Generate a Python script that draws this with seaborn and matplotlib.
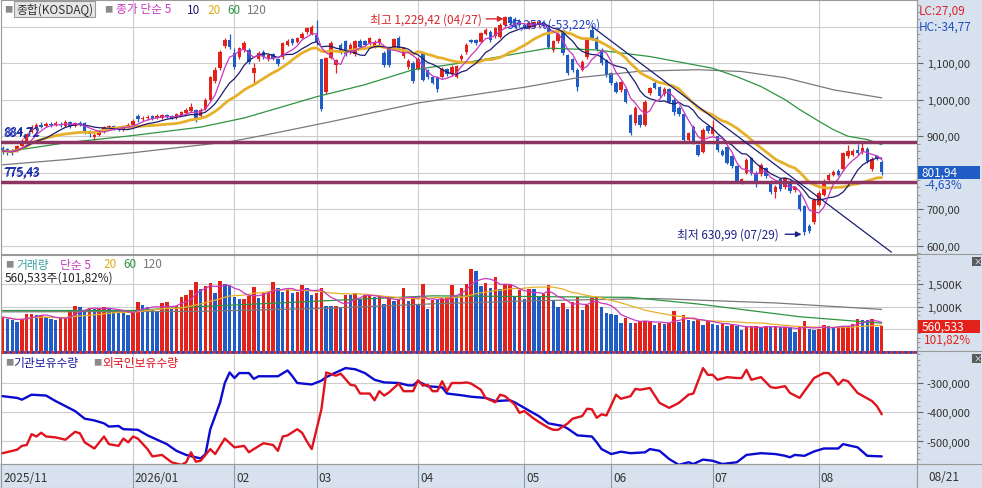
import numpy as np
import pandas as pd
import matplotlib
matplotlib.use("Agg")
import matplotlib.pyplot as plt
import seaborn as sns
from matplotlib.patches import Rectangle
from matplotlib.lines import Line2D
from matplotlib.ticker import FuncFormatter, MultipleLocator
from matplotlib.transforms import blended_transform_factory

# ---- daily candles (KOSDAQ), index 0 = first visible day ----
opens = [868, 865, 862, 860, 873, 885, 912, 922, 932, 928,
         933, 930, 934, 929, 938, 928, 936, 935, 913, 898,
         904, 914, 924, 928, 921, 918, 926, 930, 955, 947,
         949, 955, 949, 951, 958, 955, 952, 959, 964, 970,
         972, 955, 975, 1000, 1050, 1087, 1148, 1163, 1127, 1118,
         1135, 1136, 1073, 1110, 1130, 1110, 1125, 1110, 1117, 1150,
         1165, 1158, 1170, 1185, 1180, 1178, 1110, 1022, 1114, 1095,
         1150, 1160, 1130, 1125, 1160, 1160, 1155, 1145, 1155, 1128,
         1142, 1140, 1168, 1120, 1090, 1100, 1085, 1127, 1080, 1062,
         1062, 1062, 1083, 1070, 1062, 1110, 1130, 1162, 1163, 1158,
         1180, 1185, 1175, 1172, 1204, 1226, 1222, 1215, 1205, 1197,
         1200, 1205, 1212, 1200, 1135, 1160, 1190, 1122, 1110, 1082,
         1082, 1117, 1190, 1170, 1136, 1108, 1073, 1046, 1027, 1030,
         958, 937, 958, 932, 1018, 1045, 1035, 1015, 1028, 1000,
         978, 960, 890, 925, 877, 858, 928, 905, 900, 860,
         870, 845, 818, 775, 800, 840, 800, 797, 813, 777,
         747, 783, 760, 775, 752, 740, 708, 655, 665, 712,
         740, 780, 793, 805, 810, 845, 850, 862, 857, 866,
         810, 845, 830]
closes = [860, 857, 856, 872, 888, 905, 925, 930, 926, 934,
          930, 936, 930, 938, 928, 935, 932, 912, 905, 903,
          915, 925, 928, 920, 918, 928, 931, 942, 946, 950,
          954, 948, 955, 958, 953, 950, 960, 965, 972, 980,
          950, 972, 1000, 1063, 1082, 1130, 1163, 1145, 1090, 1140,
          1155, 1104, 1087, 1127, 1117, 1122, 1113, 1098, 1155, 1160,
          1155, 1168, 1180, 1196, 1200, 1158, 975, 1114, 1155, 1108,
          1130, 1125, 1150, 1160, 1145, 1150, 1168, 1158, 1165, 1095,
          1095, 1165, 1140, 1140, 1105, 1050, 1112, 1054, 1062, 1046,
          1030, 1085, 1070, 1090, 1092, 1120, 1150, 1158, 1155, 1182,
          1190, 1162, 1195, 1205, 1225, 1210, 1200, 1205, 1198, 1210,
          1212, 1213, 1202, 1145, 1160, 1180, 1127, 1073, 1080, 1036,
          1103, 1163, 1168, 1138, 1100, 1068, 1046, 1022, 1048, 995,
          910, 978, 932, 995, 1032, 1033, 1010, 1030, 995, 965,
          960, 890, 908, 885, 850, 918, 915, 925, 862, 850,
          828, 818, 778, 782, 836, 800, 777, 822, 790, 747,
          762, 755, 785, 750, 760, 700, 637, 642, 727, 745,
          778, 795, 803, 795, 853, 860, 860, 855, 868, 832,
          837, 841, 801.94]
highs = [872, 869, 866, 876, 892, 910, 930, 936, 938, 940,
         938, 942, 939, 944, 942, 940, 941, 938, 916, 908,
         918, 928, 932, 931, 925, 931, 935, 948, 960, 955,
         958, 958, 960, 962, 962, 958, 964, 968, 978, 992,
         975, 976, 1004, 1066, 1090, 1135, 1168, 1180, 1140, 1145,
         1160, 1140, 1100, 1132, 1135, 1126, 1128, 1114, 1158, 1166,
         1170, 1172, 1184, 1200, 1205, 1218, 1112, 1118, 1160, 1112,
         1155, 1163, 1154, 1164, 1165, 1164, 1172, 1162, 1170, 1132,
         1146, 1170, 1175, 1145, 1110, 1105, 1118, 1130, 1085, 1066,
         1065, 1090, 1087, 1094, 1096, 1124, 1155, 1166, 1167, 1186,
         1195, 1190, 1200, 1210, 1229.42, 1228, 1225, 1220, 1210, 1214,
         1216, 1218, 1216, 1204, 1164, 1185, 1194, 1126, 1114, 1086,
         1108, 1168, 1205, 1174, 1140, 1112, 1077, 1050, 1052, 1034,
         962, 982, 962, 1000, 1036, 1050, 1038, 1034, 1032, 1004,
         982, 964, 912, 930, 880, 922, 932, 945, 904, 864,
         874, 848, 821, 786, 840, 844, 804, 826, 817, 780,
         766, 787, 789, 779, 764, 744, 712, 660, 732, 750,
         782, 800, 808, 810, 858, 875, 866, 878, 882, 870,
         842, 850, 834]
lows = [852, 850, 848, 857, 870, 882, 908, 918, 922, 924,
        926, 927, 925, 926, 922, 925, 927, 906, 898, 890,
        900, 910, 920, 916, 914, 915, 922, 928, 940, 943,
        945, 944, 946, 948, 949, 946, 948, 955, 960, 966,
        940, 950, 972, 996, 1046, 1082, 1140, 1138, 1085, 1112,
        1130, 1098, 1046, 1105, 1112, 1106, 1108, 1093, 1112, 1146,
        1150, 1154, 1166, 1180, 1176, 1150, 970, 1015, 1110, 1072,
        1125, 1120, 1125, 1120, 1140, 1146, 1150, 1140, 1150, 1090,
        1090, 1135, 1135, 1115, 1085, 1045, 1080, 1050, 1057, 1042,
        1020, 1058, 1065, 1066, 1058, 1106, 1126, 1154, 1150, 1154,
        1176, 1158, 1170, 1168, 1200, 1205, 1196, 1200, 1193, 1193,
        1196, 1200, 1198, 1138, 1130, 1155, 1122, 1068, 1075, 1025,
        1078, 1112, 1162, 1132, 1095, 1063, 1040, 1017, 1022, 990,
        904, 932, 926, 928, 1014, 1028, 1005, 1010, 990, 958,
        955, 885, 886, 880, 845, 854, 910, 900, 856, 846,
        824, 812, 772, 770, 796, 795, 760, 792, 785, 742,
        730, 750, 755, 745, 748, 695, 630.99, 636, 660, 708,
        736, 776, 790, 790, 806, 840, 846, 850, 852, 828,
        805, 836, 795]

# volume in thousand shares
volume_k = [764, 727, 690, 654, 727, 837, 840, 800, 805, 764,
            712, 700, 742, 764, 888, 1006, 984, 925, 962, 947,
            962, 984, 947, 888, 874, 870, 815, 874, 1094, 1035,
            984, 947, 910, 1079, 1109, 947, 1020, 1204, 1256, 1373,
            1549, 1403, 1461, 1535, 1314, 1564, 1498, 1461, 1204, 1168,
            1175, 1241, 1447, 1182, 1314, 1320, 1549, 1425, 1329, 1403,
            1314, 1329, 1476, 1425, 1256, 1314, 1425, 1020, 1010, 1020,
            969, 1263, 1250, 1315, 1168, 1263, 1270, 1204, 1226, 1057,
            1204, 1130, 1153, 1425, 1116, 1219, 1042, 1498, 947, 1153,
            1146, 1160, 1204, 1476, 1241, 1425, 1513, 1850, 1792, 1461,
            1535, 1425, 1660, 1388, 1498, 1505, 1241, 1373, 1168, 1403,
            1388, 1219, 1278, 1476, 1130, 998, 1072, 947, 1094, 1219,
            925, 1042, 1190, 1219, 984, 852, 837, 800, 632, 742,
            632, 640, 676, 680, 685, 580, 639, 610, 639, 888,
            654, 800, 690, 680, 727, 595, 690, 617, 580, 617,
            566, 595, 560, 470, 529, 551, 566, 529, 551, 529,
            551, 529, 535, 507, 434, 529, 668, 485, 470, 492,
            580, 566, 529, 544, 566, 570, 617, 712, 705, 700,
            710, 550, 560.533]

# long averages (index, value)
ma60_idx = [0, 4, 13, 27, 41, 50, 65, 75, 85, 97, 113, 123, 134, 147, 152, 157, 162, 165, 169, 172, 175, 179, 182]
ma60_val = [858, 864, 882, 902, 925, 950, 1008, 1041, 1082, 1104, 1141, 1136, 1118, 1086, 1063, 1036, 1000, 973, 941, 918, 900, 891, 877]
ma120_idx = [0, 13, 27, 47, 55, 68, 86, 108, 119, 132, 144, 153, 162, 172, 182]
ma120_val = [822, 836, 855, 885, 905, 940, 991, 1034, 1060, 1078, 1082, 1077, 1060, 1027, 1005]
vol_ma60_idx = [0, 27, 41, 67, 89, 108, 130, 144, 165, 182]
vol_ma60_k = [910, 910, 1000, 1130, 1240, 1225, 1205, 1056, 770, 625]
vol_ma120_idx = [0, 40, 67, 89, 110, 135, 160, 182]
vol_ma120_k = [880, 890, 960, 1060, 1130, 1180, 1080, 935]

# support levels and downtrend line
support_levels = [884.72, 775.43]
trend_x = [122, 184]
trend_y = [1200, 583]

# holdings (thousand shares)
inst_idx = [0, 3, 4, 6, 9, 11, 13, 15, 17, 19, 21, 22, 24, 25, 28, 30, 32, 34, 36, 38, 40, 41, 42, 43, 45,
            46, 47, 48, 49, 51, 52, 53, 56, 57, 59, 60, 61, 64, 66, 67, 69, 71, 73, 75, 77, 79, 82, 84, 85,
            86, 88, 91, 92, 95, 97, 100, 102, 105, 106, 108, 110, 111, 113, 114, 116, 117, 119, 122, 123,
            124, 126, 128, 130, 133, 134, 136, 138, 140, 142, 143, 145, 147, 149, 152, 154, 157, 160, 162,
            163, 164, 166, 168, 170, 173, 174, 177, 179, 182]
inst_k = [-345, -351, -357, -340, -343, -362, -379, -396, -422, -428, -438, -449, -447, -458, -460, -479,
          -494, -509, -532, -546, -554, -558, -543, -458, -368, -300, -264, -283, -266, -266, -286, -277,
          -277, -277, -257, -277, -300, -305, -292, -280, -264, -249, -253, -266, -289, -298, -300, -308,
          -308, -294, -311, -315, -336, -342, -347, -351, -362, -359, -366, -385, -404, -413, -438, -441,
          -447, -456, -479, -483, -503, -526, -543, -535, -540, -537, -526, -532, -560, -580, -571, -577,
          -562, -566, -577, -571, -546, -540, -543, -549, -554, -546, -549, -534, -524, -524, -509, -520,
          -549, -551]
foreign_idx = [0, 2, 3, 4, 5, 6, 7, 8, 9, 11, 13, 15, 16, 17, 19, 21, 22, 24, 25, 26, 27, 28, 30, 31, 33,
               35, 37, 38, 39, 40, 41, 43, 44, 46, 48, 50, 51, 52, 54, 56, 57, 58, 59, 61, 62, 63, 64, 66,
               67, 69, 70, 72, 73, 74, 76, 77, 78, 79, 80, 82, 83, 85, 86, 87, 88, 89, 90, 91, 92, 93, 95,
               96, 97, 99, 100, 102, 103, 104, 106, 107, 108, 110, 111, 113, 114, 115, 117, 118, 120, 121,
               122, 123, 124, 125, 127, 128, 130, 131, 132, 134, 136, 138, 140, 142, 143, 145, 146, 147,
               148, 150, 152, 153, 154, 155, 157, 159, 160, 162, 163, 165, 166, 168, 170, 171, 172, 173,
               174, 175, 177, 180, 181, 182]
foreign_k = [-540, -532, -528, -515, -512, -475, -483, -470, -483, -486, -494, -467, -472, -503, -524,
             -483, -509, -515, -490, -503, -483, -490, -526, -551, -546, -571, -580, -571, -537, -569,
             -566, -526, -543, -490, -520, -515, -537, -526, -506, -512, -532, -483, -479, -458, -470,
             -500, -526, -390, -264, -275, -268, -306, -309, -336, -336, -359, -328, -343, -332, -302,
             -328, -328, -291, -309, -306, -328, -328, -294, -328, -300, -300, -298, -302, -323, -351,
             -366, -340, -345, -373, -402, -396, -422, -433, -453, -460, -460, -438, -422, -413, -388,
             -390, -419, -407, -411, -340, -354, -345, -320, -323, -317, -368, -385, -368, -340, -336,
             -249, -272, -272, -289, -280, -283, -283, -255, -289, -280, -314, -317, -311, -334, -351,
             -328, -283, -266, -266, -283, -306, -289, -294, -334, -362, -379, -407]

month_idx = [27, 48, 65, 86, 108, 126, 147, 169]
month_labels = ["2026/01", "02", "03", "04", "05", "06", "07", "08"]

RED = "#e4221c"
BLUE = "#1f5cc6"
STRIP = "#d8e2ee"
GRID = "#cdcdcd"

sns.set_theme(style="white")
plt.rcParams['font.family'] = ['Noto Sans CJK KR', 'DejaVu Sans']
plt.rcParams['axes.unicode_minus'] = False

W, H = 982, 489
fig = plt.figure(figsize=(W / 100, H / 100), dpi=100)
fig.patch.set_facecolor("white")


def px_box(x0, y0, x1, y1):
    return [x0 / W, 1 - y1 / H, (x1 - x0) / W, (y1 - y0) / H]


def ftext(x, y, s, color, size=8.5, **kw):
    fig.text(x / W, 1 - y / H, s, color=color, fontsize=size, va='center', ha='left', **kw)


def comma_dec(v, d=2):
    return f"{v:,.{d}f}".replace('.', ',')


# background strips (right axis area, date bar)
fig.add_artist(Rectangle((917 / W, 0), 65 / W, 1, transform=fig.transFigure, fc=STRIP, ec='none', zorder=-5))
fig.add_artist(Rectangle((0, 0), 1, 24 / H, transform=fig.transFigure, fc=STRIP, ec='none', zorder=-5))

ax_p = fig.add_axes(px_box(1, 1, 917, 255))
ax_v = fig.add_axes(px_box(1, 256, 917, 352))
ax_h = fig.add_axes(px_box(1, 353, 917, 465))
ax_d = fig.add_axes(px_box(1, 465, 917, 489))

XLIM = (-0.33, 189.3)
x = np.arange(len(closes))

for ax in (ax_p, ax_v, ax_h, ax_d):
    ax.set_xlim(*XLIM)
    ax.set_xticks([])
    for s in ax.spines.values():
        s.set_color("#9a9a9a")
        s.set_linewidth(0.8)
    for m in month_idx:
        ax.axvline(m, color=GRID if ax is not ax_d else "#8e9aac", lw=0.8, zorder=0)

for ax in (ax_p, ax_v, ax_h):
    ax.yaxis.tick_right()
    ax.tick_params(axis='y', which='major', right=True, length=4, width=0.8, color='#666',
                   direction='out', pad=3, labelsize=8, labelcolor='#333')
    ax.tick_params(axis='y', which='minor', right=True, length=2, width=0.6, color='#888', direction='out')

# ---- price panel ----
o = np.array(opens, dtype=float)
c = np.array(closes, dtype=float)
h = np.array(highs, dtype=float)
l = np.array(lows, dtype=float)
up = c >= o
col = np.where(up, RED, BLUE)

ax_p.set_ylim(578, 1272.6)
# 800 sits under the price box, 1,200 under the HC readout
ax_p.set_yticks([600, 700, 900, 1000, 1100])
ax_p.yaxis.set_minor_locator(MultipleLocator(20))
ax_p.yaxis.set_major_formatter(FuncFormatter(lambda v, p: comma_dec(v)))
for g in range(600, 1300, 100):
    ax_p.axhline(g, color=GRID, lw=0.8, zorder=0)

ax_p.vlines(x, l, h, colors=col, lw=0.9, zorder=2)
ax_p.bar(x, np.maximum(np.abs(c - o), 1.8), bottom=np.minimum(o, c), width=0.72,
         color=col, linewidth=0, zorder=3)

close_s = pd.Series(c)
ma5 = close_s.rolling(5, min_periods=1).mean().to_numpy()
ma10 = close_s.rolling(10, min_periods=1).mean().to_numpy()
ma20 = close_s.rolling(20, min_periods=1).mean().to_numpy()
sns.lineplot(x=ma120_idx, y=ma120_val, ax=ax_p, color="#7a7a7a", lw=0.9, zorder=4)
sns.lineplot(x=ma60_idx, y=ma60_val, ax=ax_p, color="#2e9440", lw=0.9, zorder=4)
sns.lineplot(x=x, y=ma20, ax=ax_p, color="#e6b02a", lw=2.0, zorder=4)
sns.lineplot(x=x, y=ma10, ax=ax_p, color="#1c1c70", lw=0.9, zorder=4)
sns.lineplot(x=x, y=ma5, ax=ax_p, color="#c838c0", lw=0.9, zorder=4)

for lv in support_levels:
    ax_p.axhline(lv, color="#8b3560", lw=2.5, zorder=5)
sns.lineplot(x=trend_x, y=trend_y, ax=ax_p, color="#1c1c78", lw=0.9, zorder=5)
ax_p.set_xlim(*XLIM)
ax_p.set_ylim(578, 1272.6)
ax_p.set_xlabel("")
ax_p.set_ylabel("")

for lv in support_levels:
    for dx, dy in ((1.5, 2.5), (2.6, 3.3)):
        ax_p.annotate(comma_dec(lv), xy=(XLIM[0], lv), xytext=(dx, dy), textcoords='offset points',
                      color="#1a2aa8", fontsize=8.5, va='bottom', ha='left', zorder=6)

hi_i = int(np.argmax(h))
lo_i = int(np.argmin(l))
ax_p.annotate(f"최고 {comma_dec(h[hi_i])} (04/27)", xy=(hi_i - 0.3, 1221), xytext=(hi_i - 28, 1221),
              color="#d8262a", fontsize=8.5, va='center', ha='left', zorder=7,
              arrowprops=dict(arrowstyle='-|>', color="#d8262a", lw=1, mutation_scale=8, shrinkA=1, shrinkB=0))
ax_p.text(hi_i - 0.4, 1207, "-37,25%(-53,22%)", color="#2040c8", fontsize=8.5, va='center', ha='left', zorder=7)
ax_p.annotate(f"최저 {comma_dec(l[lo_i])} (07/29)", xy=(lo_i - 0.6, 632), xytext=(lo_i - 26.3, 632),
              color="#1e2288", fontsize=8.5, va='center', ha='left', zorder=7,
              arrowprops=dict(arrowstyle='-|>', color="#1e2288", lw=1, mutation_scale=8, shrinkA=2, shrinkB=0))

# current price box
tr_p = blended_transform_factory(fig.transFigure, ax_p.transData)
fig.add_artist(Rectangle((918 / W, c[-1] - 17.5), 62 / W, 35, transform=tr_p, fc=BLUE, ec='none', zorder=5))
fig.text(922 / W, c[-1], comma_dec(c[-1]), transform=tr_p, color='white', fontsize=8.5, va='center', zorder=6)
fig.text(924 / W, c[-1] - 33, "-4,63%", transform=tr_p, color="#2050c0", fontsize=8.5, va='center', zorder=6)
ftext(919, 11, "LC:27,09", "#d8262a")
ftext(919, 27, "HC:-34,77", "#2050c0")

# legend row
ftext(4, 10, "■", "#8a8a8a", size=6)
ftext(16, 10, "종합(KOSDAQ)", "#333333",
      bbox=dict(boxstyle='square,pad=0.15', fc='#e6e6e6', ec='#9a9a9a', lw=0.8))
ftext(104, 10, "■", "#8a8a8a", size=6)
ftext(116, 10, "종가 단순 5", "#c838c0")
ftext(187, 10, "10", "#1c1c70")
ftext(207, 10, "20", "#e0aa20")
ftext(227, 10, "60", "#2e9440")
ftext(247, 10, "120", "#777777")

# ---- volume panel ----
vol = np.array(volume_k, dtype=float) * 1000
vup = np.r_[True, vol[1:] >= vol[:-1]]
ax_v.set_ylim(0, 2158000)
ax_v.set_yticks([1000000, 1500000])
ax_v.yaxis.set_minor_locator(MultipleLocator(100000))
ax_v.yaxis.set_major_formatter(FuncFormatter(lambda v, p: f"{v / 1000:,.0f}K"))
for g in (500000, 1000000, 1500000):
    ax_v.axhline(g, color=GRID, lw=0.8, zorder=0)
ax_v.bar(x, vol, width=0.72, color=np.where(vup, RED, BLUE), linewidth=0, zorder=2)
vol_s = pd.Series(vol)
sns.lineplot(x=vol_ma120_idx, y=np.array(vol_ma120_k) * 1000, ax=ax_v, color="#7a7a7a", lw=0.9, zorder=3)
sns.lineplot(x=vol_ma60_idx, y=np.array(vol_ma60_k) * 1000, ax=ax_v, color="#2e9440", lw=0.9, zorder=3)
sns.lineplot(x=x, y=vol_s.rolling(20, min_periods=1).mean().to_numpy(), ax=ax_v, color="#e6b02a", lw=0.9, zorder=3)
sns.lineplot(x=x, y=vol_s.rolling(5, min_periods=1).mean().to_numpy(), ax=ax_v, color="#c838c0", lw=0.9, zorder=3)
ax_v.set_xlim(*XLIM)
ax_v.set_ylim(0, 2158000)
ax_v.set_xlabel("")
ax_v.set_ylabel("")

tr_v = blended_transform_factory(fig.transFigure, ax_v.transData)
fig.add_artist(Rectangle((918 / W, vol[-1] - 146000), 62 / W, 292000, transform=tr_v, fc=RED, ec='none', zorder=5))
fig.text(922 / W, vol[-1], f"{vol[-1]:,.0f}", transform=tr_v, color='white', fontsize=8.5, va='center', zorder=6)
fig.text(924 / W, vol[-1] - 290000, "101,82%", transform=tr_v, color=RED, fontsize=8.5, va='center', zorder=6)

ftext(5, 265, "■", "#8a8a8a", size=6)
ftext(16, 265, "거래량", "#3a9ea0")
ftext(60, 265, "단순 5", "#c838c0")
ftext(103, 265, "20", "#e0aa20")
ftext(123, 265, "60", "#2e9440")
ftext(143, 265, "120", "#777777")
ftext(5, 278, f"{vol[-1]:,.0f}주(101,82%)", "#222222")

# ---- holdings panel ----
ax_h.set_ylim(-577000, -194000)
ax_h.set_yticks([-500000, -400000, -300000])
ax_h.yaxis.set_minor_locator(MultipleLocator(20000))
ax_h.yaxis.set_major_formatter(FuncFormatter(lambda v, p: f"{v:,.0f}"))
for g in (-500000, -400000, -300000):
    ax_h.axhline(g, color=GRID, lw=0.8, zorder=0)
sns.lineplot(x=inst_idx, y=np.array(inst_k) * 1000, ax=ax_h, color="#0a0ad0", lw=1.7, zorder=3)
sns.lineplot(x=foreign_idx, y=np.array(foreign_k) * 1000, ax=ax_h, color="#e0141e", lw=1.7, zorder=3)
ax_h.set_xlim(*XLIM)
ax_h.set_ylim(-577000, -194000)
ax_h.set_xlabel("")
ax_h.set_ylabel("")
ax_h.plot([0, 1], [1, 1], transform=ax_h.transAxes, color=RED, lw=2, ls=(0, (1, 1)), clip_on=False, zorder=6)
ax_h.plot([0, 1], [1, 1], transform=ax_h.transAxes, color="#2040c0", lw=2, ls=(1, (1, 1)), clip_on=False, zorder=6)

ftext(5, 363, "■", "#8a8a8a", size=6)
ftext(13, 363, "기관보유수량", "#1a1a9c")
ftext(93, 363, "■", "#8a8a8a", size=6)
ftext(102, 363, "외국인보유수량", "#e01020")

# ---- date bar ----
ax_d.set_facecolor(STRIP)
ax_d.set_ylim(0, 1)
ax_d.set_yticks([])
ax_d.text(0.2, 0.45, "2025/11", color="#333333", fontsize=8.5, va='center', ha='left',
          transform=ax_d.get_xaxis_transform())
for m, lab in zip(month_idx, month_labels):
    ax_d.text(m + 0.4, 0.45, lab, color="#333333", fontsize=8.5, va='center', ha='left',
              transform=ax_d.get_xaxis_transform())
ftext(928, 478, "08/21", "#333333")

# separators and close boxes in the right strip
for yy in (255, 352, 465):
    fig.add_artist(Line2D([917 / W, 1], [1 - yy / H] * 2, color="#9a9a9a", lw=0.8))
fig.add_artist(Line2D([917 / W] * 2, [0, 1], color="#9a9a9a", lw=0.8))
for yy in (258, 355):
    fig.add_artist(Rectangle((972 / W, 1 - (yy + 9) / H), 9 / W, 9 / H, transform=fig.transFigure,
                             fc="#5a5a5a", ec='none', zorder=5))
    ftext(973.5, yy + 4.3, "×", "white", size=6, zorder=6)

fig.savefig("out.png", dpi=100)
